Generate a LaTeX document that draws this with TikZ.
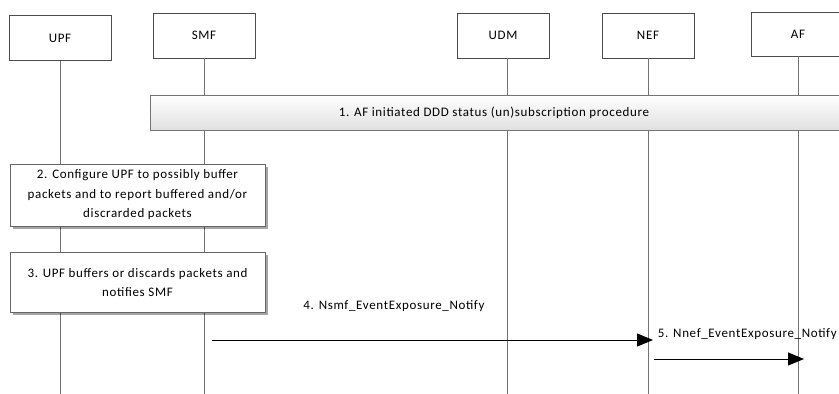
\documentclass[tikz,border=0pt]{standalone}
\usepackage{fontspec}
\setmainfont{Carlito}[LetterSpace=5]
\usetikzlibrary{arrows.meta,positioning,calc,shadows}
\tikzset{
  nfdob/.style={draw=black!70,line width=0.9pt,fill=white,minimum width=102pt,minimum height=45pt,inner sep=0pt},
  vonal/.style={draw=black!55,line width=0.9pt},
  savdob/.style={draw=black!55,line width=0.9pt,top color=white,bottom color=black!12,minimum height=35pt,inner sep=0pt},
  lepes/.style={draw=black!60,line width=0.9pt,fill=white,align=center,minimum width=255pt,inner sep=0pt,
    drop shadow={shadow xshift=2.5pt,shadow yshift=-2.5pt,opacity=0.35,fill=black}},
  nyil/.style={-{Triangle[length=16pt,width=13pt]},line width=1pt},
}

\begin{document}
\begin{tikzpicture}[x=1pt,y=-1pt,font=\fontsize{13}{19.5}\selectfont]
  \useasboundingbox (0,0) rectangle (839,394);
  \coordinate (alj) at (0,394);
  \coordinate (m4) at (0,340);
  \coordinate (m5) at (0,359);
  % network functions
  \node[nfdob] (upf) at (60,38) {UPF};
  \node[nfdob] (smf) at (204,35.5) {SMF};
  \node[nfdob,minimum width=92pt] (udm) at (503,35.5) {UDM};
  \node[nfdob,minimum width=92pt] (nef) at (648,35.5) {NEF};
  \node[nfdob,minimum width=94pt,minimum height=44pt] (af) at (798,34) {AF};
  % lifelines
  \draw[vonal] (upf) -- (upf |- alj);
  \draw[vonal] (smf) -- (smf |- alj);
  \draw[vonal] ([xshift=4pt]udm.south) -- ([xshift=4pt]udm.south |- alj);
  \draw[vonal] (nef) -- (nef |- alj);
  \draw[vonal] (af) -- (af |- alj);
  % steps
  \node[savdob,minimum width=694pt] (s1) at (497,112.5)
    {\hspace*{-6pt}1. AF initiated DDD status (un)subscription procedure};
  \node[lepes,minimum height=62pt] (s2) at (137.5,195)
    {2. Configure UPF to possibly buffer\\ packets and to report buffered and/or\\ discrarded packets};
  \node[lepes,minimum height=60pt] (s3) at (137.5,282.5)
    {3. UPF buffers or discards packets and\\ notifies SMF};
  % messages
  \node (l4) at (394,306) {4. Nsmf\_EventExposure\_Notify};
  \node[anchor=east,inner sep=0pt] (l5) at (837,334) {5. Nnef\_EventExposure\_Notify};
  \draw[nyil] ([xshift=8pt]smf |- m4) -- ([xshift=5pt]nef |- m4);
  \draw[nyil] ([xshift=6pt]nef |- m5) -- ([xshift=6pt]af |- m5);
\end{tikzpicture}
\end{document}
